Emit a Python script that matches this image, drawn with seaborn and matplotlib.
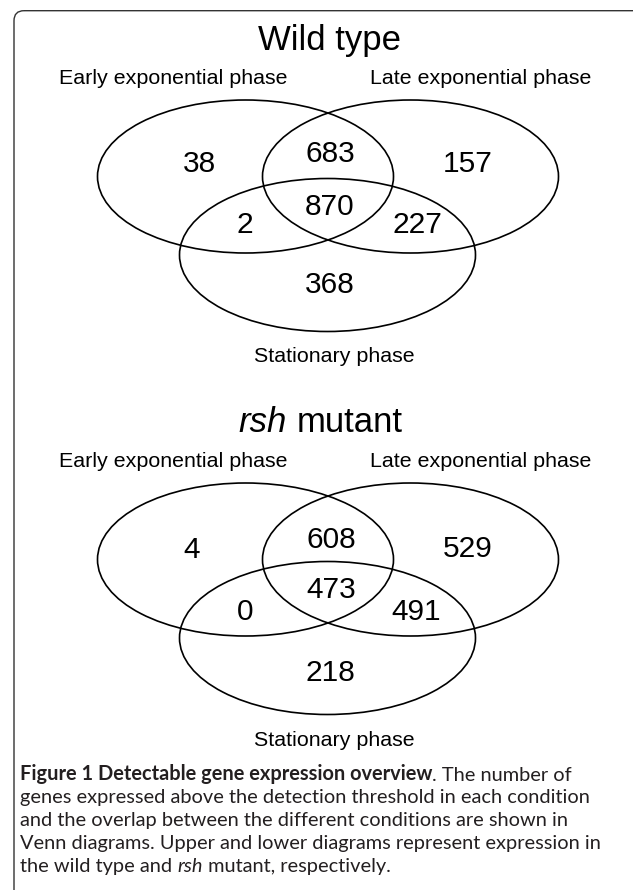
import numpy as np
import seaborn as sns
import matplotlib
matplotlib.use("Agg")
import matplotlib.pyplot as plt
from matplotlib.patches import Ellipse, FancyBboxPatch

# region order: early only, early&late, late only, early&stat, all three, late&stat, stat only
regions = ["E", "EL", "L", "ES", "ELS", "LS", "S"]
wild_type = [38, 683, 157, 2, 870, 227, 368]
rsh_mutant = [4, 608, 529, 0, 473, 491, 218]
set_names = ["Early exponential phase", "Late exponential phase", "Stationary phase"]

sns.set_theme(style="white")
plt.rcParams['font.family'] = ['Liberation Sans', 'DejaVu Sans']
plt.rcParams['text.color'] = 'black'

W, H = 633, 890
fig = plt.figure(figsize=(W / 100, H / 100), dpi=100)
ax = fig.add_axes([0, 0, 1, 1])
ax.set_xlim(0, W)
ax.set_ylim(H, 0)
ax.axis("off")

# rounded frame (opens off the right/bottom of the picture)
frame = FancyBboxPatch((14, 10.7), 650, 900, boxstyle="round,pad=0,rounding_size=10",
                       fill=False, ec="#333333", lw=1.0)
ax.add_patch(frame)

# layout of one diagram (pixel coords of the upper one)
ell_centers = [(245.5, 176.5), (410.5, 176.5), (327.5, 255)]
ell_w, ell_h = 296, 153
pos_upper = [(183, 161, "left"), (330, 151, "center"), (468, 161, "center"),
             (237, 222.5, "left"), (329.5, 204, "center"), (417, 222.5, "center"),
             (329.5, 282.5, "center")]
pos_lower = [(183, 547, "left"), (331, 537.5, "center"), (468, 546.5, "center"),
             (237, 609, "left"), (331, 587.5, "center"), (416, 609, "center"),
             (330, 670, "center")]

num_size = 21.5
lab_size = 15.4
em = num_size * 100 / 72


def venn(dy, counts, positions, stat_base):
    for (cx, cy) in ell_centers:
        ax.add_patch(Ellipse((cx, cy + dy), ell_w, ell_h, fill=False, ec="black", lw=1.2))
    for val, (x, y, ha) in zip(counts, positions):
        ax.text(x, y + 0.36 * em, str(val), ha=ha, va="baseline", fontsize=num_size)
    ax.text(173.5, 84 + dy, set_names[0], ha="center", va="baseline", fontsize=lab_size)
    ax.text(481, 84 + dy, set_names[1], ha="center", va="baseline", fontsize=lab_size)
    ax.text(334, stat_base, set_names[2], ha="center", va="baseline", fontsize=lab_size)


venn(0, wild_type, pos_upper, 361.5)
venn(383, rsh_mutant, pos_lower, 746)

ax.text(329, 50, "Wild type", ha="center", va="baseline", fontsize=25)
ax.text(287, 432, "rsh", ha="right", va="baseline", fontsize=25, style="italic")
ax.text(297, 432, "mutant", ha="left", va="baseline", fontsize=25)

# caption
cap_font = ['Lato', 'DejaVu Sans']
cap_col = "#231f20"
cs = 13.0
base = [780, 803, 826, 849, 872]
t1 = ax.text(20, base[0], "Figure 1 Detectable gene expression overview", fontsize=cs,
             fontweight="bold", family=cap_font, color=cap_col, va="baseline")
t1b = ax.annotate(". The number of", xy=(1, 0), xycoords=t1, ha="left", va="bottom",
                  fontsize=cs, family=cap_font, color=cap_col)
lines = ["genes expressed above the detection threshold in each condition",
         "and the overlap between the different conditions are shown in",
         "Venn diagrams. Upper and lower diagrams represent expression in"]
others = []
for s, b in zip(lines, base[1:4]):
    others.append(ax.text(20, b, s, fontsize=cs, family=cap_font, color=cap_col, va="baseline"))
t5 = ax.text(20, base[4], "the wild type and ", fontsize=cs, family=cap_font, color=cap_col,
             va="baseline")
t5b = ax.annotate("rsh", xy=(1, 0), xycoords=t5, ha="left", va="bottom", fontsize=cs,
                  family=cap_font, color=cap_col, style="italic")
t5c = ax.annotate(" mutant, respectively.", xy=(1, 0), xycoords=t5b, ha="left", va="bottom",
                  fontsize=cs, family=cap_font, color=cap_col)

# fit caption size: the widest plain line ends near x=595 in the figure
r = fig.canvas.get_renderer()
fig.canvas.draw()
widest = max(t.get_window_extent(r).width for t in others)
scale = 578 / widest
for t in [t1, t1b, t5, t5b, t5c] + others:
    t.set_fontsize(cs * scale)

fig.savefig("out.png", dpi=100)
